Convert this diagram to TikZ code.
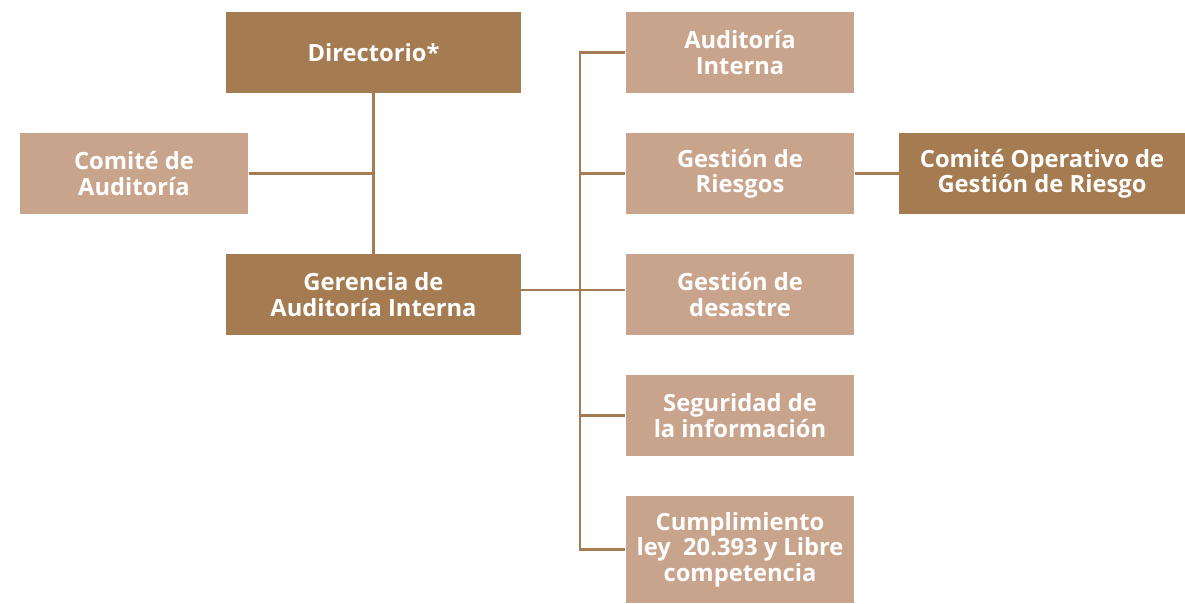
\documentclass[tikz,border=0pt]{standalone}
\usepackage{fontspec}
\setmainfont{Open Sans}
\definecolor{cafe}{HTML}{A57B51}
\definecolor{arena}{HTML}{C9A48C}

\begin{document}
\begin{tikzpicture}[x=0.02cm, y=-0.02cm,
    caja/.style={rectangle, align=center, text=white, inner sep=0pt,
        font=\fontsize{13.5}{14.5}\selectfont\bfseries, minimum height=1.62cm},
    oscura/.style={caja, fill=cafe, minimum width=5.9cm},
    clara/.style={caja, fill=arena, minimum width=4.58cm},
    linea/.style={draw=cafe, line width=1.4pt}]

\useasboundingbox (0,0) rectangle (1185,603);

% columna izquierda
\node[oscura] (dir) at (373.5,52.5) {Directorio*};
\node[clara] (comaud) at (134,173.5) {Comité de\\Auditoría};
\node[oscura] (ger) at (373.5,294.5) {Gerencia de\\Auditoría Interna};

% columna derecha
\node[clara] (audint) at (740,52.5) {Auditoría\\Interna};
\node[clara] (riesgos) at (740,173.5) {Gestión de\\Riesgos};
\node[clara] (desastre) at (740,294.5) {Gestión de\\desastre};
\node[clara] (seg) at (740,415.5) {Seguridad de\\la información};
\node[clara, minimum height=2.14cm] (cumpl) at (740,549.5) {Cumplimiento\\ley~ 20.393 y Libre\\competencia};
\node[oscura, minimum width=5.72cm] (comop) at (1042,173.5) {Comité Operativo de\\Gestión de Riesgo};

\coordinate (tronco) at (580,0);
\coordinate (salida) at ([yshift=0.09cm]ger.east);

\draw[linea] (dir.south) -- (ger.north);
\draw[linea] (comaud.east) -- (comaud.east -| dir.south);
\draw[linea] (salida) -- (tronco |- salida);
\draw[linea] (audint.west) -| (tronco |- cumpl.west) -- (cumpl.west);
\draw[linea] (tronco |- riesgos.west) -- (riesgos.west);
\draw[linea] (tronco |- salida) -- (salida -| desastre.west);
\draw[linea] (tronco |- seg.west) -- (seg.west);
\draw[linea] (riesgos.east) -- (comop.west);

\end{tikzpicture}
\end{document}
